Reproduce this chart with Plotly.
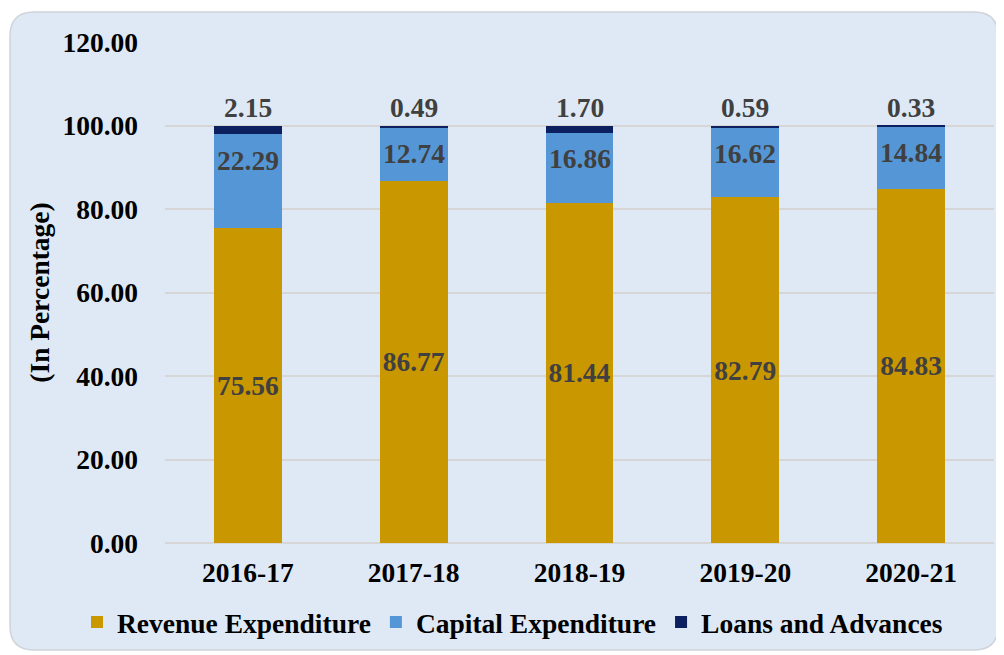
import plotly.graph_objects as go

years = ["2016-17", "2017-18", "2018-19", "2019-20", "2020-21"]
revenue = [75.56, 86.77, 81.44, 82.79, 84.83]
capital = [22.29, 12.74, 16.86, 16.62, 14.84]
loans = [2.15, 0.49, 1.70, 0.59, 0.33]
y_ticks = [0, 20, 40, 60, 80, 100, 120]

FONT = "Liberation Serif, Times New Roman, serif"
LBL = "#404040"
FS = 27.5
# page has an 8px body margin, so the figure is drawn 8px smaller
W, H = 996, 647
L, R, T, B = 157, 10, 34, 112

fig = go.Figure()
fig.add_trace(go.Bar(
    x=years, y=revenue, name="Revenue Expenditure",
    marker=dict(color="#c99700", line=dict(width=0)),
    text=[f"{v:.2f}" for v in revenue], textposition="inside",
    insidetextanchor="middle", textangle=0,
    textfont=dict(family=FONT, size=FS, color=LBL, weight="bold"),
))
fig.add_trace(go.Bar(
    x=years, y=capital, name="Capital Expenditure",
    marker=dict(color="#5597d6", line=dict(width=0)),
))
fig.add_trace(go.Bar(
    x=years, y=loans, name="Loans and Advances",
    marker=dict(color="#0c1f5e", line=dict(width=0)),
))

for i, yr in enumerate(years):
    top_cap = revenue[i] + capital[i]
    fig.add_annotation(x=yr, y=top_cap, text=f"{capital[i]:.2f}", showarrow=False,
                       yanchor="middle", yshift=-26,
                       font=dict(family=FONT, size=FS, color=LBL, weight="bold"))
    tot = top_cap + loans[i]
    fig.add_annotation(x=yr, y=tot, text=f"{loans[i]:.2f}", showarrow=False,
                       yanchor="bottom", yshift=1,
                       font=dict(family=FONT, size=FS, color=LBL, weight="bold"))

# rounded background panel (decorative)
pw, ph = W - L - R, H - T - B
def px(x):
    return (x - L) / pw
def py(y):
    return (H - B - y) / ph
x0, x1, y0, y1, rr = 2, 990, 4, 642, 24
path = (f"M {px(x0+rr)},{py(y0)} L {px(x1-rr)},{py(y0)} Q {px(x1)},{py(y0)} {px(x1)},{py(y0+rr)} "
        f"L {px(x1)},{py(y1-rr)} Q {px(x1)},{py(y1)} {px(x1-rr)},{py(y1)} "
        f"L {px(x0+rr)},{py(y1)} Q {px(x0)},{py(y1)} {px(x0)},{py(y1-rr)} "
        f"L {px(x0)},{py(y0+rr)} Q {px(x0)},{py(y0)} {px(x0+rr)},{py(y0)} Z")
fig.add_shape(type="path", path=path, xref="paper", yref="paper", layer="below",
              fillcolor="#dee9f5", line=dict(color="#d0d4d8", width=1.5))

fig.update_layout(
    width=W, height=H,
    barmode="stack", bargap=0.59,
    paper_bgcolor="white", plot_bgcolor="rgba(0,0,0,0)",
    margin=dict(l=L, r=R, t=T, b=B, autoexpand=False),
    font=dict(family=FONT, color="black"),
    uniformtext=dict(mode="show", minsize=FS),
    showlegend=True,
    legend=dict(orientation="h", xref="paper", yref="paper",
                x=px(69), y=py(614), xanchor="left", yanchor="middle",
                font=dict(family=FONT, size=FS, color="black", weight="bold"),
                bgcolor="rgba(0,0,0,0)", itemwidth=30, traceorder="normal"),
    xaxis=dict(tickfont=dict(family=FONT, size=FS, color="black", weight="bold"),
               showgrid=False, showline=False, ticks="", ticklabelstandoff=10),
    yaxis=dict(range=[0, 120], tickvals=y_ticks, tickformat=".2f",
               tickfont=dict(family=FONT, size=FS, color="black", weight="bold"),
               showgrid=True, gridcolor="#d6d6d6", gridwidth=1.5,
               zeroline=True, zerolinecolor="#d6d6d6", zerolinewidth=1.5,
               showline=False, ticks="", ticklabelstandoff=26,
               title=dict(text="(In Percentage)", standoff=4,
                          font=dict(family=FONT, size=FS, color="black", weight="bold"))),
)

fig.write_html("out.html")
